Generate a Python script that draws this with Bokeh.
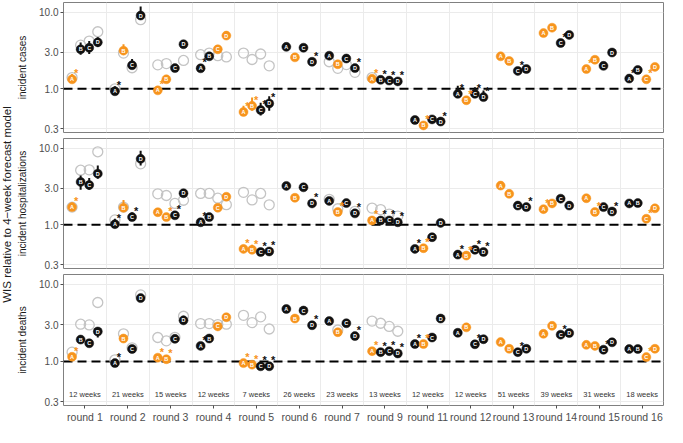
import math
from bokeh.plotting import figure
from bokeh.models import (ColumnDataSource, Range1d, FixedTicker,
                          CustomJSTickFormatter, Span, Label)
from bokeh.layouts import row, column
from bokeh.embed import file_html
from bokeh.resources import INLINE
from bokeh.core.properties import value

# ---------------- data ----------------
rounds = ["round 1", "round 2", "round 3", "round 4", "round 5", "round 6", "round 7",
          "round 9", "round 11", "round 12", "round 13", "round 14", "round 15", "round 16"]
weeks = ["12 weeks", "21 weeks", "15 weeks", "12 weeks", "7 weeks", "26 weeks", "23 weeks",
         "13 weeks", "12 weeks", "12 weeks", "51 weeks", "39 weeks", "31 weeks", "18 weeks"]
models = ["A", "B", "C", "D"]
# o = orange, k = black (per round, models A..D)
colour_group = ["okkk", "kokk", "ookk", "kkoo", "ookk", "kokk", "kokk",
                "okkk", "kokk", "kokk", "ookk", "ookk", "ookk", "kkoo"]

# relative WIS, rows = rounds, columns = models A..D
cases_wis = [
    [1.33, 3.27, 3.43, 4.03], [0.93, 3.14, 2.03, 9.0], [0.955, 1.33, 1.86, 3.81],
    [1.85, 2.65, 3.27, 4.93], [0.50, 0.60, 0.53, 0.645], [3.52, 2.57, 3.43, 2.25],
    [2.70, 2.09, 2.48, 1.86], [1.35, 1.31, 1.28, 1.25], [0.393, 0.334, 0.40, 0.375],
    [0.86, 0.71, 0.86, 0.78], [2.65, 2.30, 1.71, 1.81], [5.32, 6.25, 3.95, 5.03],
    [1.81, 2.39, 1.99, 2.97], [1.36, 1.76, 1.33, 1.93]]
cases_ref = [
    [1.40, 3.70, 4.19, 5.53], [1.0, 2.92, 1.88, 7.95], [2.05, 2.13, None, 2.34],
    [2.78, 2.92, 2.70, 2.60], [2.92, 2.41, 2.84, 1.99], [None] * 4,
    [2.25, 1.85, 2.07, 1.64], [1.40, None, None, None], [None] * 4,
    [None] * 4, [None] * 4, [None] * 4, [None] * 4, [None] * 4]
cases_star = ["A", "A", "A", "A", "ABCD", "D", "D", "ABCD", "BD", "ABCD", "C", "C", "A", "AC"]
cases_err = [
    ("round 1", "A", 1.25, 1.56), ("round 1", "B", 2.78, 4.0), ("round 1", "C", 2.85, 4.2),
    ("round 1", "D", 3.5, 4.7), ("round 2", "A", 0.9, 1.08), ("round 2", "B", 2.77, 3.8),
    ("round 2", "C", 1.81, 2.45), ("round 2", "D", 8.3, 11.8), ("round 3", "D", 3.6, 4.1),
    ("round 4", "D", 4.5, 5.6), ("round 5", "A", 0.45, 0.6), ("round 5", "B", 0.52, 0.77),
    ("round 5", "C", 0.45, 0.66), ("round 5", "D", 0.52, 0.8), ("round 9", "A", 1.25, 1.5),
    ("round 12", "A", 0.8, 1.1), ("round 12", "B", 0.65, 0.78), ("round 12", "C", 0.8, 1.05),
    ("round 12", "D", 0.72, 0.95)]

hosp_wis = [
    [1.70, 3.62, 3.30, 4.64], [1.02, 1.67, 1.26, 7.23], [1.46, 1.26, 1.33, 2.58],
    [1.08, 1.26, 1.67, 2.32], [0.486, 0.473, 0.443, 0.45], [3.21, 2.25, 3.08, 1.90],
    [2.05, 1.47, 1.92, 1.41], [1.14, 1.14, 1.14, 1.08], [0.486, 0.496, 0.69, 1.06],
    [0.41, 0.398, 0.473, 0.443], [3.24, 2.53, 1.78, 1.70], [1.60, 1.90, 2.19, 1.78],
    [2.22, 1.47, 1.70, 1.49], [1.90, 1.92, 1.20, 1.64]]
hosp_ref = [
    [1.70, 5.14, 5.20, 8.93], [1.16, 1.70, None, 6.22], [2.53, 2.41, 1.90, 2.09],
    [2.56, 2.56, 2.22, 1.83], [2.65, 2.11, 2.56, 1.82], [None] * 4,
    [2.15, 1.62, None, 1.50], [1.65, 1.58, 1.38, 1.30], [None] * 4,
    [None] * 4, [None] * 4, [None] * 4, [None] * 4, [None] * 4]
hosp_star = ["A", "AC", "BC", "A", "ABCD", "D", "BD", "ABCD", "AB", "ABCD", "D", "A", "BD", "C"]
hosp_err = [
    ("round 1", "A", 1.65, 1.95), ("round 1", "B", 2.86, 4.38), ("round 1", "C", 2.86, 4.06),
    ("round 1", "D", 3.98, 5.93), ("round 2", "A", 0.98, 1.2), ("round 2", "B", 1.6, 2.1),
    ("round 2", "C", 1.2, 1.45), ("round 2", "D", 5.93, 9.18), ("round 3", "D", 2.4, 2.8),
    ("round 4", "D", 2.2, 2.6), ("round 5", "A", 0.44, 0.55), ("round 5", "B", 0.44, 0.55),
    ("round 5", "C", 0.42, 0.5), ("round 5", "D", 0.42, 0.5), ("round 9", "A", 1.1, 1.3),
    ("round 11", "D", 0.95, 1.15)]

deaths_wis = [
    [1.15, 1.92, 1.72, 2.44], [0.953, 1.98, 1.45, 6.59], [1.12, 1.07, 1.96, 3.40],
    [1.59, 1.98, 2.84, 3.73], [0.953, 0.91, 0.867, 0.867], [4.77, 3.59, 4.55, 2.94],
    [3.33, 2.39, 3.12, 2.13], [1.36, 1.32, 1.36, 1.27], [1.68, 1.68, 2.04, 3.59],
    [2.35, 2.76, 1.67, 1.94], [1.78, 1.46, 1.32, 1.46], [2.28, 2.89, 2.22, 2.33],
    [1.64, 1.59, 1.42, 1.77], [1.45, 1.45, 1.14, 1.46]]
deaths_ref = [
    [1.32, 3.03, 2.97, 5.78], [1.05, 2.28, 1.50, 7.25], [2.04, 1.85, 2.05, 3.84],
    [3.09, 3.09, 3.00, 3.03], [3.95, 3.18, 3.77, 2.63], [None] * 4,
    [None, 2.55, None, None], [3.33, 3.12, 2.84, 2.46], [None] * 4,
    [None] * 4, [None] * 4, [None] * 4, [None] * 4, [None] * 4]
deaths_star = ["A", "A", "AB", "A", "ABCD", "D", "D", "ABCD", "AB", "C", "C", "C", "C", "C"]
deaths_err = [
    ("round 1", "B", 1.75, 2.1), ("round 1", "C", 1.6, 1.85), ("round 1", "D", 2.04, 2.63),
    ("round 3", "D", 3.0, 3.9), ("round 4", "D", 3.4, 4.0), ("round 11", "D", 3.3, 3.9)]

y_ticks = [0.3, 1, 3, 10]

# ---------------- style ----------------
ORANGE = "#F7941D"
BLACK = "#111111"
GREY_RING = "#C4C4C4"
FONT = "Liberation Sans"
DODGE = [-0.3, -0.1, 0.1, 0.3]
FRAME_W = 600


def build(label, wis, ref, stars, errs, top, fh, bottom, show_x):
    px, py, pc, pl = [], [], [], []
    gx, gy = [], []
    sx, sy, sc = [], [], []
    for i in range(len(rounds)):
        for j, m in enumerate(models):
            x = i + 1 + DODGE[j]
            c = ORANGE if colour_group[i][j] == "o" else BLACK
            px.append(x); py.append(wis[i][j]); pc.append(c); pl.append(m)
            if ref[i][j] is not None:
                gx.append(x); gy.append(ref[i][j])
            if m in stars[i]:
                sx.append(x); sy.append(wis[i][j]); sc.append(c)
    ex, elo, ehi, ec = [], [], [], []
    for rnd, m, lo, hi in errs:
        i = rounds.index(rnd); j = models.index(m)
        ex.append(i + 1 + DODGE[j]); elo.append(lo); ehi.append(hi)
        ec.append(ORANGE if colour_group[i][j] == "o" else BLACK)

    p = figure(frame_width=FRAME_W, frame_height=fh,
               x_range=Range1d(0.5, len(rounds) + 0.5), y_range=Range1d(0.27, 13.3),
               y_axis_type="log", x_axis_location="below" if show_x else None,
               toolbar_location=None, output_backend="svg",
               min_border_left=48, min_border_right=2,
               min_border_top=top, min_border_bottom=bottom)
    p.outline_line_color = "#808080"
    p.outline_line_width = 1
    p.background_fill_color = "white"
    p.border_fill_color = "white"

    yax = p.yaxis[0]
    yax.ticker = FixedTicker(ticks=y_ticks)
    yax.formatter = CustomJSTickFormatter(code="return tick.toFixed(1);")
    yax.axis_label = label
    yax.axis_label_text_font = FONT
    yax.axis_label_text_font_style = "normal"
    yax.axis_label_text_font_size = "10px"
    yax.axis_label_text_color = "#1A1A1A"
    yax.axis_label_standoff = 8
    yax.major_label_text_font = FONT
    yax.major_label_text_font_size = "10px"
    yax.major_label_text_color = "#4D4D4D"
    yax.major_label_standoff = 2
    yax.major_tick_out = 3
    yax.major_tick_in = 0
    yax.minor_tick_out = 0
    yax.minor_tick_in = 0
    yax.major_tick_line_color = "#4D4D4D"
    yax.axis_line_color = None

    p.ygrid.ticker = FixedTicker(ticks=y_ticks)
    p.ygrid.grid_line_color = "#EBEBEB"
    p.xgrid.ticker = FixedTicker(ticks=[k + 1.5 for k in range(len(rounds) - 1)])
    p.xgrid.grid_line_color = "#EBEBEB"

    if show_x:
        xax = p.xaxis[0]
        xax.ticker = FixedTicker(ticks=list(range(1, len(rounds) + 1)))
        xax.formatter = CustomJSTickFormatter(args=dict(labels=rounds),
                                              code="return labels[Math.round(tick) - 1];")
        xax.major_label_text_font = FONT
        xax.major_label_text_font_size = "10.5px"
        xax.major_label_text_color = "#4D4D4D"
        xax.major_label_standoff = 2
        xax.major_tick_out = 3
        xax.major_tick_in = 0
        xax.minor_tick_out = 0
        xax.major_tick_line_color = "#4D4D4D"
        xax.axis_line_color = None

    ref_line = Span(location=1, dimension="width", line_color="black",
                    line_width=2, line_dash="9 5", level="underlay")
    p.add_layout(ref_line)

    p.scatter(gx, gy, size=10, fill_color=None, line_color=GREY_RING, line_width=1.3)
    p.segment(x0=ex, y0=elo, x1=ex, y1=ehi, line_color=ec, line_width=2)
    p.scatter(px, py, size=9, fill_color=pc, line_color=pc, line_width=0.5)
    p.text(px, py, text=pl, text_color="white", text_font=value(FONT),
           text_font_size="5.5px", text_font_style="bold",
           text_align="center", text_baseline="middle")
    p.text(sx, sy, text=["*"] * len(sx), text_color=sc, text_font=value(FONT),
           text_font_size="11px", text_font_style="bold",
           text_align="center", text_baseline="middle", x_offset=4, y_offset=-6)
    if show_x:
        p.text(list(range(1, len(rounds) + 1)), [0.38] * len(rounds), text=weeks,
               text_color="#333333", text_font=value(FONT), text_font_size="7.5px",
               text_align="center", text_baseline="middle")
    return p


p1 = build("incident cases", cases_wis, cases_ref, cases_star, cases_err, 2, 130, 3, False)
p2 = build("incident hospitalizations", hosp_wis, hosp_ref, hosp_star, hosp_err, 3, 130, 3, False)
p3 = build("incident deaths", deaths_wis, deaths_ref, deaths_star, deaths_err, 3, 131, 18, True)

TOTAL_H = 135 + 136 + 152
lab = figure(width=14, height=TOTAL_H, toolbar_location=None, output_backend="svg",
             x_range=Range1d(0, 1), y_range=Range1d(0, 1),
             x_axis_location=None, y_axis_location=None, min_border=0)
lab.outline_line_color = None
lab.xgrid.visible = False
lab.ygrid.visible = False
lab.add_layout(Label(x=6, y=TOTAL_H - 204, x_units="screen", y_units="screen",
                     text="WIS relative to 4\u2212week forecast model", angle=math.pi / 2,
                     text_align="center", text_baseline="middle", text_font=FONT,
                     text_font_size="11.5px", text_color="#1A1A1A"))

layout = row(lab, column(p1, p2, p3))
open("out.html", "w").write(file_html(layout, INLINE))
